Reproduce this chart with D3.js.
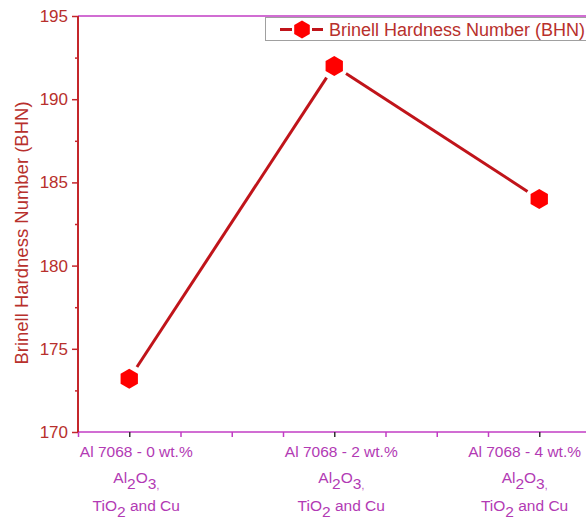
<!DOCTYPE html>
<html>
<head>
<meta charset="utf-8">
<script src="https://cdn.jsdelivr.net/npm/d3@7"></script>
<style>
  body { margin: 0; background: #fff; }
  text { font-family: "Liberation Sans", Arial, sans-serif; }
</style>
</head>
<body>
<div id="chart"></div>
<script>
// data
var positions = [1, 2, 3];
var firstLines = ["Al 7068 - 0 wt.%", "Al 7068 - 2 wt.%", "Al 7068 - 4 wt.%"];
var bhn = [173.2, 192, 184];
var yTicks = [170, 175, 180, 185, 190, 195];
var seriesName = "Brinell Hardness Number (BHN)";

var width = 586, height = 519;
var axisRed = "#c4262b", textRed = "#b8302c", magenta = "#c23cc4", magText = "#b23ab4";
var lineRed = "#c0141a", markRed = "#ff0000";

var svg = d3.select("#chart").append("svg")
    .attr("width", width).attr("height", height);

var x = d3.scaleLinear().domain([0.75, 3.75]).range([78, 693]);
var y = d3.scaleLinear().domain([170, 195]).range([432, 16]);

// top border
svg.append("line")
    .attr("x1", x(0.75)).attr("x2", width + 10)
    .attr("y1", y(195)).attr("y2", y(195))
    .attr("stroke", magenta).attr("stroke-width", 1.5);

// x axis ticks (every 0.25)
var xMinor = d3.range(0.75, 3.76, 0.25);
var xAxis = svg.append("g")
    .attr("transform", "translate(0," + y(170) + ")")
    .call(d3.axisBottom(x).tickValues(xMinor).tickSize(5).tickFormat(""));
xAxis.select(".domain").attr("stroke", magenta).attr("stroke-width", 1.5)
    .attr("d", "M" + x(0.75) + ",0H" + (width + 10));
xAxis.selectAll(".tick line").attr("stroke", function(d) {
    return positions.indexOf(Math.round(d * 100) / 100) >= 0 ? "#333" : magenta;
}).attr("stroke-width", 1.5);

// x category labels
positions.forEach(function(p, i) {
    var g = svg.append("g").attr("fill", magText).attr("font-size", 15.5).attr("text-anchor", "middle");
    var t1 = g.append("text").attr("y", 457).text(firstLines[i]);
    var half = t1.node().getComputedTextLength() / 2;
    var cx = Math.min(x(p) + 7, 581 - half);
    t1.attr("x", cx);
    var t2 = g.append("text").attr("x", cx).attr("y", 483);
    t2.append("tspan").text("Al");
    t2.append("tspan").attr("dy", 6).text("2");
    t2.append("tspan").attr("dy", -6).text("O");
    t2.append("tspan").attr("dy", 6).text("3");
    t2.append("tspan").attr("font-size", 10).text(",");
    var t3 = g.append("text").attr("x", cx).attr("y", 511);
    t3.append("tspan").text("TiO");
    t3.append("tspan").attr("dy", 6).text("2");
    t3.append("tspan").attr("dy", -6).text(" and Cu");
});

// y axis
var yMinor = d3.range(172.5, 195, 5);
var yMinorAxis = svg.append("g")
    .attr("transform", "translate(" + x(0.75) + ",0)")
    .call(d3.axisLeft(y).tickValues(yMinor).tickSize(3).tickFormat(""));
yMinorAxis.select(".domain").remove();
yMinorAxis.selectAll(".tick line").attr("stroke", axisRed).attr("stroke-width", 1.5);

var yAxis = svg.append("g")
    .attr("transform", "translate(" + x(0.75) + ",0)")
    .call(d3.axisLeft(y).tickValues(yTicks).tickSize(6).tickPadding(4).tickFormat(d3.format("d")));
yAxis.select(".domain").attr("stroke", axisRed).attr("stroke-width", 2).attr("d", "M0," + y(195) + "V" + y(170));
yAxis.selectAll(".tick line").attr("stroke", axisRed).attr("stroke-width", 1.5);
yAxis.selectAll(".tick text").attr("fill", textRed).attr("font-size", 17)
    .attr("font-family", "Liberation Sans, Arial, sans-serif");

// y label
svg.append("text")
    .attr("transform", "translate(28,233) rotate(-90)")
    .attr("text-anchor", "middle")
    .attr("fill", textRed)
    .attr("font-size", 18.5)
    .attr("font-family", "Open Sans, sans-serif")
    .text(seriesName);

// hexagon marker path
function hexagon(r) {
    var pts = d3.range(6).map(function(k) {
        var a = -Math.PI / 2 + k * Math.PI / 3;
        return [r * Math.cos(a), r * Math.sin(a)];
    });
    return "M" + pts.join("L") + "Z";
}

// line segments with gaps around the markers
var pts = positions.map(function(p, i) { return [x(p), y(bhn[i])]; });
var gap = 14;
for (var i = 0; i < pts.length - 1; i++) {
    var a = pts[i], b = pts[i + 1];
    var dx = b[0] - a[0], dy = b[1] - a[1], len = Math.sqrt(dx * dx + dy * dy);
    var ux = dx / len, uy = dy / len;
    svg.append("line")
        .attr("x1", a[0] + ux * gap).attr("y1", a[1] + uy * gap)
        .attr("x2", b[0] - ux * gap).attr("y2", b[1] - uy * gap)
        .attr("stroke", lineRed).attr("stroke-width", 3);
}

svg.selectAll(".marker")
    .data(pts)
    .enter()
    .append("path")
    .attr("class", "marker")
    .attr("transform", function(d) { return "translate(" + d[0] + "," + d[1] + ")"; })
    .attr("d", hexagon(10))
    .attr("fill", markRed);

// legend
var lg = svg.append("g");
lg.append("rect")
    .attr("x", 265.5).attr("y", 17.5).attr("width", 340).attr("height", 23)
    .attr("fill", "#fff").attr("stroke", "#a0a0a0").attr("stroke-width", 1);
lg.append("line")
    .attr("x1", 280).attr("x2", 292).attr("y1", 29.5).attr("y2", 29.5)
    .attr("stroke", lineRed).attr("stroke-width", 3);
lg.append("line")
    .attr("x1", 312).attr("x2", 323).attr("y1", 29.5).attr("y2", 29.5)
    .attr("stroke", lineRed).attr("stroke-width", 3);
lg.append("path")
    .attr("transform", "translate(302,29.5)")
    .attr("d", hexagon(9))
    .attr("fill", markRed);
lg.append("text")
    .attr("x", 329).attr("y", 36)
    .attr("fill", textRed)
    .attr("font-size", 18)
    .attr("font-family", "Open Sans, sans-serif")
    .text(seriesName);
</script>
</body>
</html>
